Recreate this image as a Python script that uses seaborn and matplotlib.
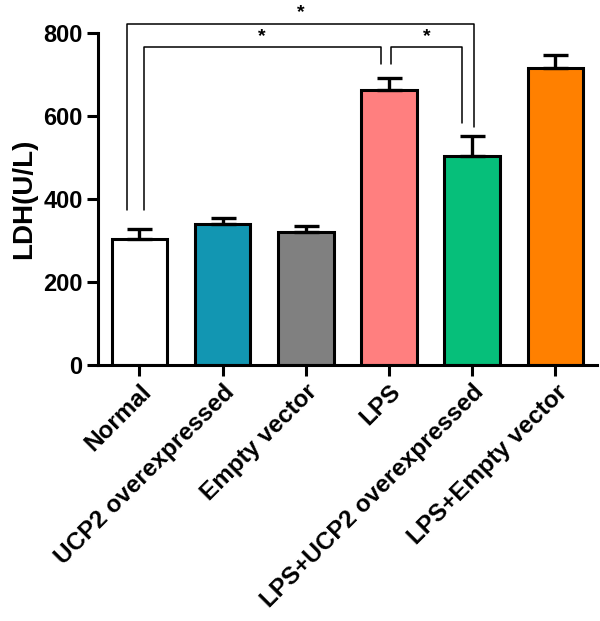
import numpy as np
import pandas as pd
import matplotlib
matplotlib.use("Agg")
import matplotlib.pyplot as plt
import seaborn as sns

# data
groups = ["Normal", "UCP2 overexpressed", "Empty vector", "LPS",
          "LPS+UCP2 overexpressed", "LPS+Empty vector"]
ldh_mean = [304, 340, 321, 662, 504, 715]
ldh_err = [24, 14, 14, 30, 47, 31]
colors = ["#FFFFFF", "#1296B2", "#808080", "#FF7F7F", "#06BF7A", "#FF8000"]

# significance brackets: (left x, right x, bar height, left leg end, right leg end, label)
brackets = [
    (-0.15, 4.02, 822, 374, 574, "*"),
    (0.05, 2.90, 765, 374, 724, "*"),
    (3.02, 3.88, 765, 724, 584, "*"),
]

sns.set_style("ticks", {"axes.edgecolor": "black", "text.color": "black",
                        "axes.labelcolor": "black", "xtick.color": "black",
                        "ytick.color": "black"})
plt.rcParams["font.family"] = ["Liberation Sans", "DejaVu Sans"]
plt.rcParams["font.weight"] = "bold"

df = pd.DataFrame({"group": groups, "ldh": ldh_mean})

fig = plt.figure(figsize=(6, 6.21), dpi=100)
ax = fig.add_axes([0.163, 0.412, 0.832, 0.535])

sns.barplot(data=df, x="group", y="ldh", hue="group", palette=colors,
            saturation=1, width=0.67, edgecolor="black", linewidth=2.2,
            legend=False, dodge=False, ax=ax)

xpos = np.arange(len(groups))
ax.errorbar(xpos, ldh_mean, yerr=[np.zeros(len(groups)), ldh_err], fmt="none",
            ecolor="black", elinewidth=2.4, capsize=9, capthick=2.4, zorder=1)

for x1, x2, h, l1, l2, lab in brackets:
    ax.plot([x1, x1, x2, x2], [l1, h, h, l2], color="black", lw=1.1,
            clip_on=False)
    ax.text((x1 + x2) / 2, h + 6, lab, ha="center", va="bottom",
            fontsize=14, fontweight="bold", clip_on=False)

ax.set_ylim(0, 800)
ax.set_xlim(-0.5, 5.5)
ax.set_yticks([0, 200, 400, 600, 800])
ax.set_ylabel("LDH(U/L)", fontsize=20, fontweight="bold", labelpad=4)
ax.set_xlabel("")
ax.set_xticks(xpos)
ax.set_xticklabels(groups, rotation=45, ha="right", rotation_mode="anchor",
                   fontsize=17.5, fontweight="bold")
for lab in ax.get_yticklabels():
    lab.set_fontsize(17)
    lab.set_fontweight("bold")

sns.despine(ax=ax)
for s in ["left", "bottom"]:
    ax.spines[s].set_linewidth(2.2)
ax.tick_params(axis="both", width=2.2, length=8, direction="out", pad=3)

fig.savefig("out.png", dpi=100)
